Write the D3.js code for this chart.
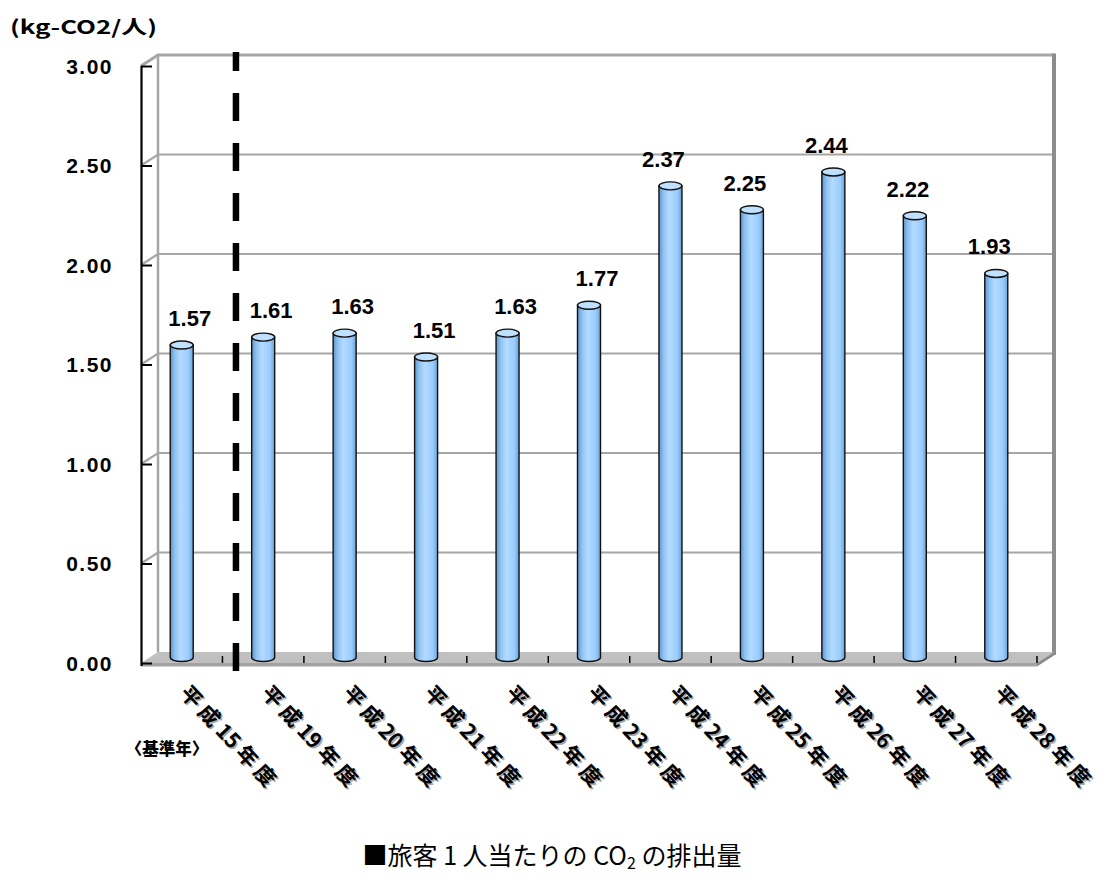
<!DOCTYPE html>
<html>
<head>
<meta charset="utf-8">
<script src="https://cdn.jsdelivr.net/npm/d3@7"></script>
<style>
  html, body { margin: 0; padding: 0; background: #fff; }
  svg { display: block; }
</style>
</head>
<body>
<svg id="chart" width="1101" height="878"></svg>
<script>
// Fiscal years (Heisei era) and CO2 emission per passenger (kg-CO2/person)
const categories = ["平成15年度", "平成19年度", "平成20年度", "平成21年度", "平成22年度", "平成23年度",
                    "平成24年度", "平成25年度", "平成26年度", "平成27年度", "平成28年度"];
const values = [1.57, 1.61, 1.63, 1.51, 1.63, 1.77, 2.37, 2.25, 2.44, 2.22, 1.93];
const yTicks = [0, 0.5, 1.0, 1.5, 2.0, 2.5, 3.0];
const unitLabel = "(kg-CO2/人)";
const baseYearNote = "〈基準年〉";
const captionParts = ["■旅客 1 人当たりの CO", "2", " の排出量"];

const svg = d3.select("#chart");

// plot frame: front plane plus a shallow depth offset for the 3-D walls
const left = 141, right = 1037;
const depth = { dx: 17, dy: -11 };
const x = d3.scaleBand().domain(categories).range([left, right]).paddingInner(0).paddingOuter(0);
const y = d3.scaleLinear().domain([0, 3]).range([663, 66]);
const back = v => y(v) + depth.dy;

const gridColor = "#a6a6a6";

// back wall
svg.append("rect")
  .attr("x", left + depth.dx).attr("y", back(3))
  .attr("width", right - left).attr("height", y(0) - y(3))
  .attr("fill", "#fff");

// gridlines: along the left wall and across the back wall
const grid = svg.append("g");
yTicks.forEach(t => {
  if (t === 0) return;
  grid.append("path")
    .attr("d", `M${left},${y(t)}L${left + depth.dx},${back(t)}L${right + depth.dx},${back(t)}`)
    .attr("fill", "none")
    .attr("stroke", gridColor)
    .attr("stroke-width", t === 3 ? 3 : 2.2);
});

// back wall edges
svg.append("line")
  .attr("x1", left + depth.dx).attr("x2", left + depth.dx)
  .attr("y1", back(3)).attr("y2", back(0))
  .attr("stroke", gridColor).attr("stroke-width", 2.5);
svg.append("line")
  .attr("x1", right + depth.dx).attr("x2", right + depth.dx)
  .attr("y1", back(3) - 1.5).attr("y2", back(0) + 3)
  .attr("stroke", "#8c8c8c").attr("stroke-width", 4);

// floor slab
const floor = svg.append("g");
floor.append("path")
  .attr("d", `M${left},${y(0)}L${left + depth.dx},${back(0)}L${right + depth.dx},${back(0)}L${right},${y(0)}Z`)
  .attr("fill", "#c0c0c0");
floor.append("rect")
  .attr("x", left).attr("y", y(0)).attr("width", right - left).attr("height", 3.5)
  .attr("fill", "#a2a2a2");
floor.append("path")
  .attr("d", `M${right},${y(0)}L${right + depth.dx},${back(0)}L${right + depth.dx},${back(0) + 3.5}L${right},${y(0) + 3.5}Z`)
  .attr("fill", "#8a8a8a");

// category ticks on the floor front edge
const tickXs = categories.slice(1).map(c => x(c)).concat([x.range()[1]]);
floor.selectAll("line.ctick")
  .data(tickXs)
  .join("line")
  .attr("class", "ctick")
  .attr("x1", d => d).attr("x2", d => d)
  .attr("y1", y(0) - 7).attr("y2", y(0))
  .attr("stroke", "#000").attr("stroke-width", 1.5);

// value axis
const axis = d3.axisRight(y).tickValues(yTicks).tickSize(11).tickFormat("");
const axisG = svg.append("g").attr("transform", `translate(${left},0)`).call(axis);
axisG.select(".domain").attr("stroke", "#000").attr("stroke-width", 2.2)
  .attr("d", `M0.5,${y(3)}V${y(0) + 3}`);
axisG.selectAll(".tick line").attr("stroke", "#000").attr("stroke-width", 2);

svg.append("g").selectAll("text")
  .data(yTicks)
  .join("text")
  .attr("x", 113)
  .attr("y", d => y(d) + 7.5)
  .attr("text-anchor", "end")
  .attr("font-family", "'Liberation Sans', Arial, sans-serif")
  .attr("font-weight", "bold")
  .attr("font-size", 21)
  .attr("letter-spacing", 1.5)
  .attr("fill", "#000")
  .text(d => d.toFixed(2));

// unit label
svg.append("text")
  .attr("x", 10).attr("y", 34)
  .attr("font-family", "'Noto Sans CJK JP', 'Liberation Sans', sans-serif")
  .attr("font-weight", "bold")
  .attr("font-size", 19)
  .attr("textLength", 147)
  .attr("lengthAdjust", "spacingAndGlyphs")
  .attr("fill", "#000")
  .text(unitLabel);

// cylinder gradients
const defs = svg.append("defs");
const body = defs.append("linearGradient").attr("id", "cylBody").attr("x1", "0%").attr("x2", "100%");
body.append("stop").attr("offset", "0%").attr("stop-color", "#5f95cc");
body.append("stop").attr("offset", "20%").attr("stop-color", "#8fc2f2");
body.append("stop").attr("offset", "45%").attr("stop-color", "#b4dbff");
body.append("stop").attr("offset", "80%").attr("stop-color", "#99ccff");
body.append("stop").attr("offset", "100%").attr("stop-color", "#6e9fd0");

const bw = 23, ry = 4;
const barMid = v => y(v) + depth.dy / 2;
const bars = svg.append("g").selectAll("g")
  .data(values)
  .join("g");

bars.each(function(v, i) {
  const g = d3.select(this);
  const cx = x(categories[i]) + x.bandwidth() / 2;
  const top = barMid(v), bottom = barMid(0);
  g.append("path")
    .attr("d", `M${cx - bw / 2},${top}V${bottom}A${bw / 2},${ry} 0 0 0 ${cx + bw / 2},${bottom}V${top}Z`)
    .attr("fill", "url(#cylBody)")
    .attr("stroke", "#111").attr("stroke-width", 1.4);
  g.append("ellipse")
    .attr("cx", cx).attr("cy", top).attr("rx", bw / 2).attr("ry", ry)
    .attr("fill", "#bfe0ff")
    .attr("stroke", "#111").attr("stroke-width", 1.4);
});

// value labels above each cylinder
svg.append("g").selectAll("text")
  .data(values)
  .join("text")
  .attr("x", (d, i) => x(categories[i]) + x.bandwidth() / 2 + (i < 6 ? 8 : -7))
  .attr("y", d => barMid(d) - 19)
  .attr("text-anchor", "middle")
  .attr("font-family", "'Liberation Sans', Arial, sans-serif")
  .attr("font-weight", "bold")
  .attr("font-size", 22)
  .attr("fill", "#000")
  .text(d => d.toFixed(2));

// base-year separator
const sepX = x(categories[1]) + 13.5;
svg.append("line")
  .attr("x1", sepX).attr("x2", sepX)
  .attr("y1", 52).attr("y2", 671)
  .attr("stroke", "#000").attr("stroke-width", 6.5)
  .attr("stroke-dasharray", "28,22")
  .attr("stroke-dashoffset", 9);

// rotated category labels with soft shadow; kanji spaced apart, digits kept tight
const catG = svg.append("g");
categories.forEach((c, i) => {
  const sx = x(c) + x.bandwidth() / 2 - 3, sy = 694;
  const chars = Array.from(c);
  [["#a8a8a8", 1.6, 1.6], ["#000", 0, 0]].forEach(([col, ox, oy]) => {
    const t = catG.append("text")
      .attr("transform", `translate(${sx + ox},${sy + oy}) rotate(47)`)
      .attr("font-family", "'Noto Sans CJK JP', sans-serif")
      .attr("font-weight", "bold")
      .attr("font-size", 21)
      .attr("fill", col);
    chars.forEach((ch, k) => {
      const next = chars[k + 1];
      const tight = next === undefined || (/\d/.test(ch) && /\d/.test(next));
      t.append("tspan").attr("letter-spacing", tight ? 0 : 5).text(ch);
    });
  });
});

svg.append("text")
  .attr("x", 167).attr("y", 755)
  .attr("text-anchor", "middle")
  .attr("font-family", "'Noto Sans CJK JP', sans-serif")
  .attr("font-weight", "900")
  .attr("font-size", 16.5)
  .attr("fill", "#000")
  .text(baseYearNote);

// caption
const cap = svg.append("text")
  .attr("x", 552).attr("y", 865)
  .attr("text-anchor", "middle")
  .attr("font-family", "'Noto Sans CJK JP', sans-serif")
  .attr("font-size", 25)
  .attr("fill", "#000");
cap.append("tspan").text(captionParts[0]);
cap.append("tspan").attr("font-size", 16).attr("dy", 4).text(captionParts[1]);
cap.append("tspan").attr("dy", -4).text(captionParts[2]);
</script>
</body>
</html>
